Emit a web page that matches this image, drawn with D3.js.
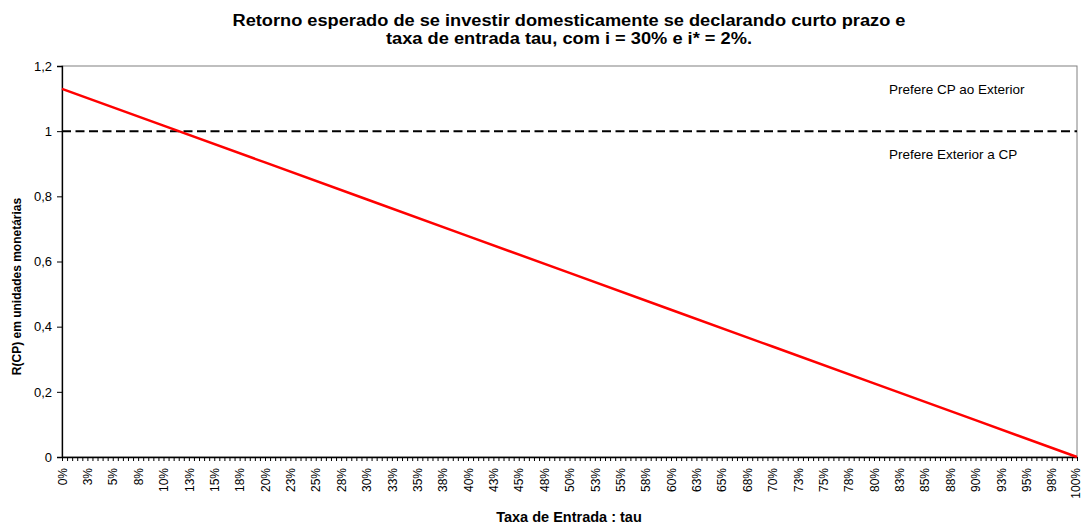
<!DOCTYPE html>
<html>
<head>
<meta charset="utf-8">
<script src="https://cdn.jsdelivr.net/npm/d3@7"></script>
<style>
  body { margin: 0; background: #fff; }
  svg { font-family: "Liberation Sans", Arial, sans-serif; }
</style>
</head>
<body>
<div id="chart"></div>
<script>
//Width and height
var w = 1082;
var h = 524;
var margin = { top: 66, right: 5, bottom: 67, left: 62 };

//Categories: tau from 0% to 100% in 0.5% steps (Excel category axis)
var categories = d3.range(0, 201).map(function(i){ return i * 0.5; });

//Series: R(CP) at tau = 0%, 10%, ..., 100%
var seriesTau = [0, 10, 20, 30, 40, 50, 60, 70, 80, 90, 100];
var seriesValues = [1.13, 1.017, 0.904, 0.791, 0.678, 0.565, 0.452, 0.339, 0.226, 0.113, 0];

//Reference line and tick labels
var refValue = 1;
var yTicks = [0, 0.2, 0.4, 0.6, 0.8, 1, 1.2];
var labelEvery = 5; // label every 2.5%

var titleLines = ["Retorno esperado de se investir domesticamente se declarando curto prazo e",
                  "taxa de entrada tau, com i = 30% e i* = 2%."];
var titleWidths = [673, 366];
var yTitle = "R(CP) em unidades monetárias";
var xTitle = "Taxa de Entrada : tau";
var notes = ["Prefere CP ao Exterior", "Prefere Exterior a CP"];

var svg = d3.select("#chart")
  .append("svg")
  .attr("width", w)
  .attr("height", h);

var pw = w - margin.left - margin.right;
var ph = h - margin.top - margin.bottom;

var xScale = d3.scalePoint()
  .domain(categories)
  .range([margin.left, w - margin.right]);

var yScale = d3.scaleLinear()
  .domain([0, 1.2])
  .range([h - margin.bottom, margin.top]);

//Plot frame (top and right in gray)
svg.append("rect")
  .attr("x", margin.left)
  .attr("y", margin.top)
  .attr("width", pw)
  .attr("height", ph)
  .attr("fill", "none")
  .attr("stroke", "#808080")
  .attr("stroke-width", 1);

//Title
svg.selectAll("text.title")
  .data(titleLines)
  .enter()
  .append("text")
  .attr("class", "title")
  .attr("x", 569)
  .attr("y", function(d, i){ return 26 + i * 18; })
  .attr("text-anchor", "middle")
  .attr("textLength", function(d, i){ return titleWidths[i]; })
  .attr("lengthAdjust", "spacingAndGlyphs")
  .style("font-size", "16px")
  .style("font-weight", "bold")
  .text(function(d){ return d; });

//Y axis
var yAxis = d3.axisLeft(yScale)
  .tickValues(yTicks)
  .tickSize(5)
  .tickFormat(function(d){ return d3.format("~g")(d).replace(".", ","); });

var gy = svg.append("g")
  .attr("class", "axis y")
  .attr("transform", "translate(" + margin.left + ",0)")
  .call(yAxis);
gy.select(".domain").attr("stroke", "#000").attr("stroke-width", 1.3);
gy.selectAll(".tick line").attr("stroke", "#000");
gy.selectAll(".tick text")
  .attr("x", -10)
  .style("font-size", "13px")
  .style("font-family", "Liberation Sans, Arial, sans-serif")
  .attr("fill", "#000");

//X axis
var xAxis = d3.axisBottom(xScale)
  .tickSize(4)
  .tickSizeOuter(0)
  .tickFormat(function(d, i){
    return i % labelEvery === 0 ? Math.round(d) + "%" : "";
  });

var gx = svg.append("g")
  .attr("class", "axis x")
  .attr("transform", "translate(0," + (h - margin.bottom) + ")")
  .call(xAxis);
gx.select(".domain").attr("stroke", "#000").attr("stroke-width", 1.3);
gx.selectAll(".tick line").attr("stroke", "#000");
gx.selectAll(".tick text")
  .attr("transform", "rotate(-90)")
  .attr("x", -11)
  .attr("y", function(d){ return d === 100 ? -2 : 0; }) //keep last label inside
  .attr("dy", "0.35em")
  .attr("text-anchor", "end")
  .style("font-size", "12px")
  .style("font-family", "Liberation Sans, Arial, sans-serif")
  .attr("fill", "#000");

//Reference line at 1
svg.append("line")
  .attr("x1", margin.left)
  .attr("x2", w - margin.right)
  .attr("y1", yScale(refValue))
  .attr("y2", yScale(refValue))
  .attr("stroke", "#000")
  .attr("stroke-width", 2)
  .attr("stroke-dasharray", "9,4.5");

//Series line
var line = d3.line()
  .x(function(d, i){ return xScale(seriesTau[i]); })
  .y(function(d){ return yScale(d); });

svg.append("path")
  .datum(seriesValues)
  .attr("d", line)
  .attr("fill", "none")
  .attr("stroke", "#ff0000")
  .attr("stroke-width", 2.5);

//Notes
svg.selectAll("text.note")
  .data(notes)
  .enter()
  .append("text")
  .attr("class", "note")
  .attr("x", 889)
  .attr("y", function(d, i){ return i === 0 ? 94 : 159; })
  .style("font-size", "13.5px")
  .text(function(d){ return d; });

//Axis titles
svg.append("text")
  .attr("transform", "translate(21,286.5) rotate(-90)")
  .attr("text-anchor", "middle")
  .style("font-size", "12px")
  .style("font-weight", "bold")
  .text(yTitle);

svg.append("text")
  .attr("x", 569)
  .attr("y", 522)
  .attr("text-anchor", "middle")
  .style("font-size", "14.5px")
  .style("font-weight", "bold")
  .text(xTitle);
</script>
</body>
</html>
